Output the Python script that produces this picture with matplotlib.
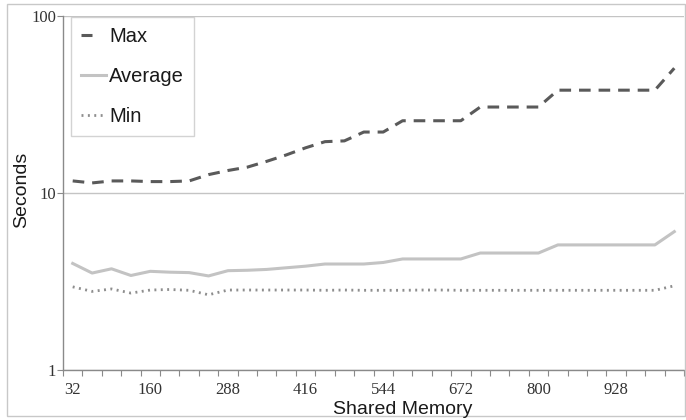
import matplotlib
matplotlib.use("Agg")
import matplotlib.pyplot as plt
from matplotlib.patches import Rectangle
from matplotlib.ticker import FixedLocator, NullFormatter

# Shared memory sizes (32 .. 1024 in steps of 32)
shared_memory = list(range(32, 1025, 32))

max_seconds = [11.7, 11.4, 11.7, 11.7, 11.6, 11.6, 11.7, 12.7, 13.4, 14.0,
               15.1, 16.4, 18.0, 19.5, 19.7, 22.1, 22.1, 25.6, 25.6, 25.6,
               25.6, 30.6, 30.6, 30.6, 30.6, 38.1, 38.1, 38.1, 38.1, 38.1,
               38.1, 50.7]
avg_seconds = [4.00, 3.53, 3.73, 3.42, 3.61, 3.57, 3.55, 3.40, 3.64, 3.66,
               3.70, 3.78, 3.86, 3.97, 3.97, 3.97, 4.05, 4.24, 4.24, 4.24,
               4.24, 4.58, 4.58, 4.58, 4.58, 5.09, 5.09, 5.09, 5.09, 5.09,
               5.09, 6.05]
min_seconds = [2.95, 2.78, 2.87, 2.72, 2.83, 2.85, 2.82, 2.66, 2.83, 2.83,
               2.83, 2.83, 2.83, 2.82, 2.83, 2.82, 2.82, 2.82, 2.83, 2.83,
               2.82, 2.82, 2.82, 2.82, 2.82, 2.82, 2.82, 2.82, 2.82, 2.82,
               2.82, 2.99]

tick_labels = [str(v) for v in shared_memory[::4]]

W, H = 686, 420
fig = plt.figure(figsize=(W / 100, H / 100), dpi=100)
ax = fig.add_axes([63 / W, (H - 370) / H, (684 - 63) / W, (370 - 16) / H])

pos = list(range(len(shared_memory)))
lw = 2.2
ax.plot(pos, max_seconds, color="#5a5a5a", lw=lw, linestyle=(0, (3.8, 2.6)),
        label="Max")
ax.plot(pos, avg_seconds, color="#c3c3c3", lw=lw, label="Average",
        solid_joinstyle="round")
ax.plot(pos, min_seconds, color="#8e8e8e", lw=2.0, linestyle=(0, (0.7, 1.6)),
        label="Min")

ax.set_yscale("log")
ax.set_ylim(1, 100)
ax.set_xlim(-0.5, len(shared_memory) - 0.5)

ax.yaxis.set_major_locator(FixedLocator([1, 10, 100]))
ax.yaxis.set_minor_locator(FixedLocator([]))
ax.set_yticklabels(["1", "10", "100"])

ax.xaxis.set_major_locator(FixedLocator(pos[::4]))
ax.set_xticklabels(tick_labels)
ax.xaxis.set_minor_locator(FixedLocator([p - 0.5 for p in pos] + [pos[-1] + 0.5]))
ax.xaxis.set_minor_formatter(NullFormatter())

ax.tick_params(axis="x", which="major", length=0, pad=9)
ax.tick_params(axis="x", which="minor", length=4, width=0.8, color="#8a8a8a",
               direction="out")
ax.tick_params(axis="y", which="major", length=4, width=0.8, color="#8a8a8a",
               pad=1)
for lab in ax.get_xticklabels() + ax.get_yticklabels():
    lab.set_fontfamily("Liberation Serif")
    lab.set_fontsize(12)
    lab.set_color("#333333")

ax.grid(axis="y", which="major", color="#c4c4c4", lw=1)
ax.set_axisbelow(True)
for side in ("top", "right"):
    ax.spines[side].set_visible(False)
for side in ("left", "bottom"):
    ax.spines[side].set_color("#8a8a8a")
    ax.spines[side].set_linewidth(1)

fig.text(22 / W, 1 - 190 / H, "Seconds", rotation=90, ha="center",
         va="center", fontsize=14, family="Liberation Sans", color="#1a1a1a")
fig.text(403 / W, 1 - 410 / H, "Shared Memory", ha="center", va="center",
         fontsize=14, family="Liberation Sans", color="#1a1a1a")

leg = ax.legend(loc="upper left", bbox_to_anchor=((71 - 63) / 621, (370 - 17) / 354),
                borderaxespad=0, fancybox=False, frameon=True,
                prop={"family": "Liberation Sans", "size": 14.5},
                handlelength=1.25, handletextpad=0.15, labelspacing=1.04,
                borderpad=0.5)
leg.get_frame().set_edgecolor("#c8c8c8")
leg.get_frame().set_linewidth(1)
for t in leg.get_texts():
    t.set_color("#1a1a1a")
# single dash for the Max key
leg.legend_handles[0].set_linestyle((0, (3.6, 6)))

fig.patches.append(Rectangle((7 / W, 4 / H), (685 - 7) / W, (416 - 4) / H,
                             transform=fig.transFigure, fill=False,
                             edgecolor="#c8c8c8", lw=1))

fig.savefig("out.png", dpi=100)
